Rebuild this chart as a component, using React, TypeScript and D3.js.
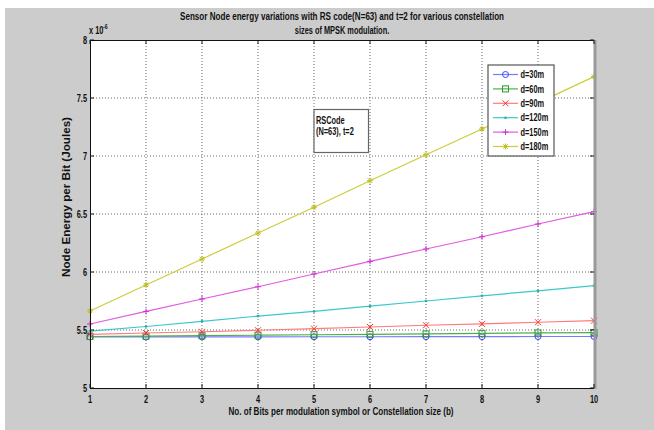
import React from "react";
import * as d3 from "d3";

// constellation size b
const bits = [1, 2, 3, 4, 5, 6, 7, 8, 9, 10];

// node energy per bit, units of 1e-6 J
const d30 = [5.44, 5.44, 5.441, 5.441, 5.442, 5.442, 5.443, 5.443, 5.444, 5.444];
const d60 = [5.444, 5.447, 5.451, 5.455, 5.459, 5.463, 5.467, 5.471, 5.475, 5.478];
const d90 = [5.462, 5.474, 5.485, 5.498, 5.511, 5.526, 5.541, 5.553, 5.567, 5.58];
const d120 = [5.49, 5.53, 5.575, 5.62, 5.66, 5.705, 5.75, 5.795, 5.838, 5.882];
const d150 = [5.552, 5.66, 5.767, 5.873, 5.983, 6.092, 6.198, 6.304, 6.414, 6.52];
const d180 = [5.664, 5.888, 6.112, 6.336, 6.558, 6.787, 7.011, 7.233, 7.458, 7.684];

const seriesNames = ["d=30m", "d=60m", "d=90m", "d=120m", "d=150m", "d=180m"];
const seriesValues = [d30, d60, d90, d120, d150, d180];
const lineColors = ["#7a7aff", "#4caf4c", "#ff7a7a", "#3cc8c8", "#e05ce0", "#cccc3c"];
const markColors = ["#3d3dff", "#2a9a2a", "#ff3030", "#1fb0b0", "#d030d0", "#c0c020"];
const markers = ["o", "s", "x", ".", "+", "*"];

const xTicks = [1, 2, 3, 4, 5, 6, 7, 8, 9, 10];
const yTicks = [5, 5.5, 6, 6.5, 7, 7.5, 8];
const yTickLabels = ["5", "5.5", "6", "6.5", "7", "7.5", "8"];

const titleLines = [
  "Sensor Node energy variations with RS code(N=63) and t=2 for various constellation",
  "sizes of MPSK modulation.",
];
const xLabel = "No. of Bits per modulation symbol or Constellation size (b)";
const yLabel = "Node Energy per Bit (Joules)";
const noteLines = ["RSCode", "(N=63), t=2"];

const W = 654, H = 430;
const left = 90, right = 594, top = 40, bottom = 388;
const SX = 0.74;
const FONT = "'Liberation Sans', Arial, sans-serif";

function T(props: { x: number; y: number; anchor?: string; size?: number; len?: number; children: any }) {
  const { x, y, anchor = "start", size = 10, len, children } = props;
  return (
    <text
      transform={`translate(${x},${y}) scale(${SX},1)`}
      textAnchor={anchor}
      fontSize={size}
      fontWeight="bold"
      fontFamily={FONT}
      fill="#111"
      textLength={len ? len / SX : undefined}
      lengthAdjust={len ? "spacingAndGlyphs" : undefined}
    >
      {children}
    </text>
  );
}

function Marker(props: { kind: string; x: number; y: number; color: string }) {
  const { kind, x, y, color } = props;
  const s = 3;
  if (kind === "o") return <circle cx={x} cy={y} r={3} fill="none" stroke={color} strokeWidth={1} />;
  if (kind === "s") return <rect x={x - s} y={y - s} width={2 * s} height={2 * s} fill="none" stroke={color} strokeWidth={1} />;
  if (kind === "x") return <path d={`M${x - s},${y - s}L${x + s},${y + s}M${x - s},${y + s}L${x + s},${y - s}`} stroke={color} strokeWidth={1} />;
  if (kind === ".") return <circle cx={x} cy={y} r={1.3} fill={color} />;
  if (kind === "+") return <path d={`M${x - s},${y}L${x + s},${y}M${x},${y - s}L${x},${y + s}`} stroke={color} strokeWidth={1} />;
  return (
    <path
      d={`M${x - s},${y}L${x + s},${y}M${x},${y - s}L${x},${y + s}M${x - 2.2},${y - 2.2}L${x + 2.2},${y + 2.2}M${x - 2.2},${y + 2.2}L${x + 2.2},${y - 2.2}`}
      stroke={color}
      strokeWidth={1}
    />
  );
}

export default function App() {
  const xScale = d3.scaleLinear().domain([1, 10]).range([left, right]);
  const yScale = d3.scaleLinear().domain([5, 8]).range([bottom, top]);
  const line = d3
    .line<number>()
    .x((d, i) => xScale(bits[i]))
    .y((d) => yScale(d));

  const legX = 488, legY = 65, legW = 66, legH = 91;
  const rowY = (i: number) => 74.5 + i * 14.4;

  return (
    <svg width={W} height={H} style={{ position: "absolute", left: 0, top: 0 }}>
      <rect x={0} y={0} width={W} height={H} fill="#fff" />
      <rect x={5} y={8} width={W - 5} height={H - 8} fill="#cccccc" />
      <rect x={left} y={top} width={right - left} height={bottom - top} fill="#fff" />

      {/* grid */}
      {xTicks.slice(1, -1).map((t) => (
        <line key={"gx" + t} x1={xScale(t)} x2={xScale(t)} y1={top} y2={bottom} stroke="#444" strokeDasharray="1,2" strokeWidth={0.8} />
      ))}
      {yTicks.slice(1, -1).map((t) => (
        <line key={"gy" + t} x1={left} x2={right} y1={yScale(t)} y2={yScale(t)} stroke="#444" strokeDasharray="1,2" strokeWidth={0.8} />
      ))}

      {/* series */}
      {seriesValues.map((vals, si) => (
        <g key={seriesNames[si]}>
          <path d={line(vals) || ""} fill="none" stroke={lineColors[si]} strokeWidth={1.2} />
          {vals.map((v, i) => (
            <Marker key={i} kind={markers[si]} x={xScale(bits[i])} y={yScale(v)} color={markColors[si]} />
          ))}
        </g>
      ))}

      {/* axes box */}
      <line x1={left} x2={right} y1={top + 0.5} y2={top + 0.5} stroke="#111" />
      <line x1={left} x2={right} y1={bottom + 0.5} y2={bottom + 0.5} stroke="#111" />
      <line x1={left + 0.5} x2={left + 0.5} y1={top} y2={bottom + 1} stroke="#111" />
      <line x1={right + 1} x2={right + 1} y1={top} y2={bottom + 1} stroke="#9a9a9a" strokeWidth={3} />
      {xTicks.map((t) => (
        <g key={"tx" + t}>
          <line x1={xScale(t)} x2={xScale(t)} y1={bottom} y2={bottom - 4} stroke="#111" />
          <line x1={xScale(t)} x2={xScale(t)} y1={top} y2={top + 4} stroke="#111" />
          <T x={xScale(t)} y={403} anchor="middle">{String(t)}</T>
        </g>
      ))}
      {yTicks.map((t, i) => (
        <g key={"ty" + t}>
          <line x1={left} x2={left + 4} y1={yScale(t)} y2={yScale(t)} stroke="#111" />
          <line x1={right - 4} x2={right} y1={yScale(t)} y2={yScale(t)} stroke="#111" />
          <T x={87} y={yScale(t) + 3.5} anchor="end">{yTickLabels[i]}</T>
        </g>
      ))}

      {/* exponent */}
      <T x={89} y={34}>x 10</T>
      <T x={103} y={29} size={7}>-6</T>

      {/* title and labels */}
      <T x={342} y={20} anchor="middle" len={324}>{titleLines[0]}</T>
      <T x={342} y={34} anchor="middle">{titleLines[1]}</T>
      <T x={341} y={415} anchor="middle" len={225}>{xLabel}</T>
      <text
        transform={`translate(70,197) rotate(-90)`}
        textAnchor="middle"
        fontSize={10}
        fontWeight="bold"
        fontFamily={FONT}
        fill="#111"
        textLength={160}
        lengthAdjust="spacingAndGlyphs"
      >
        {yLabel}
      </text>

      {/* annotation */}
      <rect x={314} y={109.5} width={54.5} height={43} fill="#fff" stroke="#666" strokeWidth={1.2} />
      <T x={316} y={123.5}>{noteLines[0]}</T>
      <T x={316} y={135}>{noteLines[1]}</T>

      {/* legend */}
      <rect x={legX} y={legY} width={legW} height={legH} fill="#fff" stroke="#555" strokeWidth={1.2} />
      {seriesNames.map((n, i) => (
        <g key={"lg" + n}>
          <line x1={493} x2={518} y1={rowY(i)} y2={rowY(i)} stroke={lineColors[i]} strokeWidth={1.2} />
          <Marker kind={markers[i]} x={505.5} y={rowY(i)} color={markColors[i]} />
          <T x={520.5} y={rowY(i) + 3.6}>{n}</T>
        </g>
      ))}
    </svg>
  );
}
